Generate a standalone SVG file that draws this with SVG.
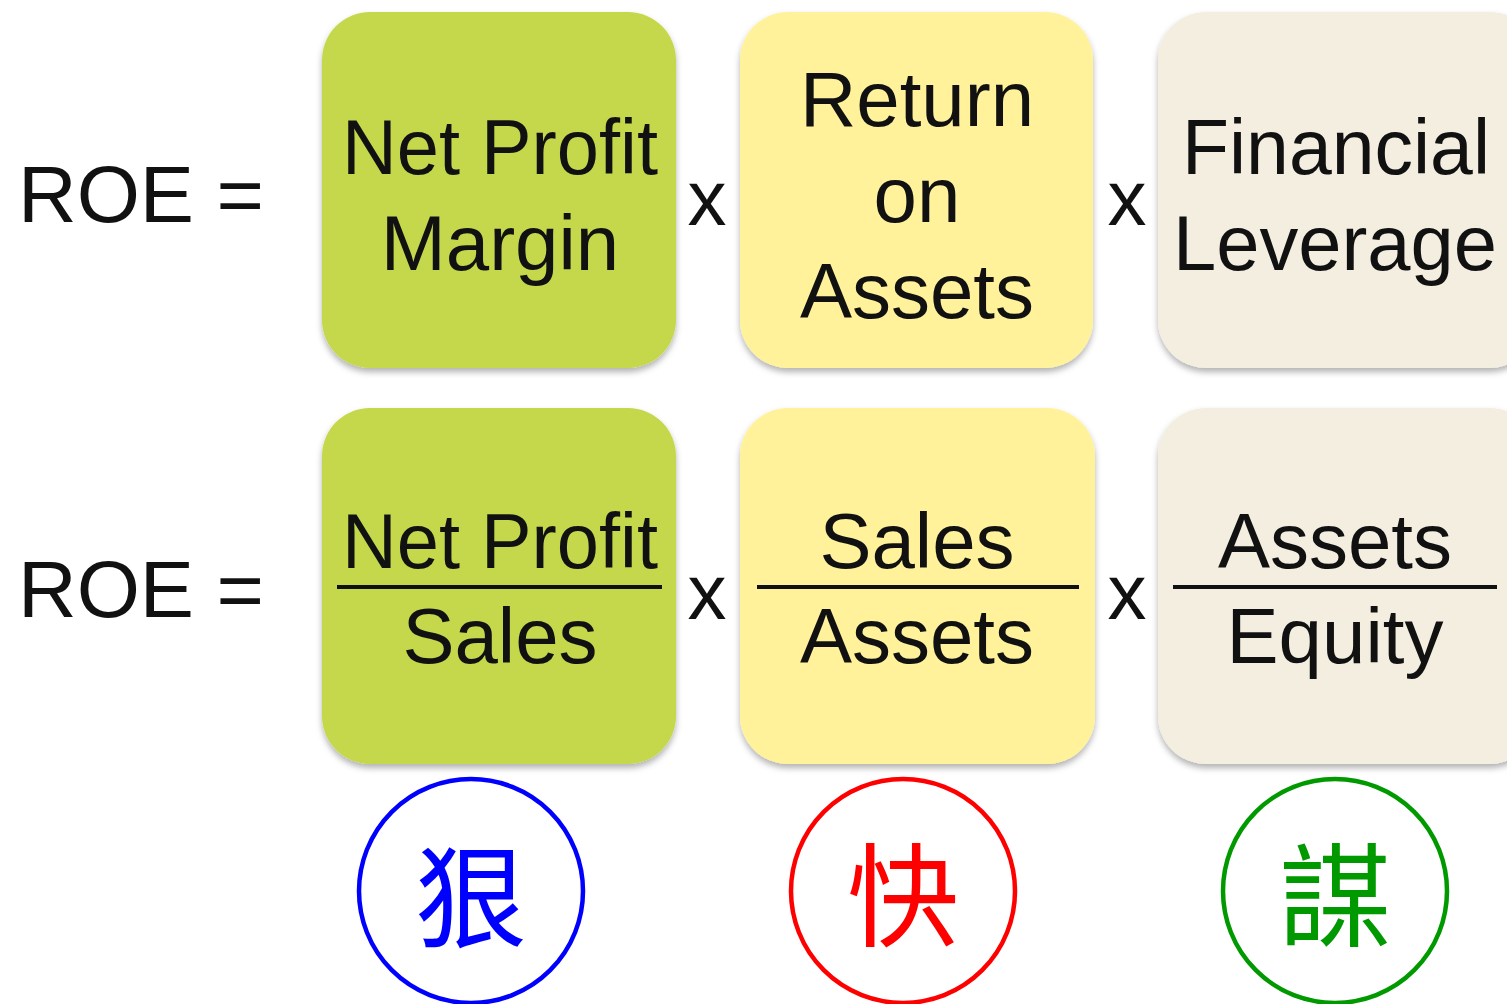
<svg xmlns="http://www.w3.org/2000/svg" width="1507" height="1004" viewBox="0 0 1507 1004">
<style>
.t{font-family:"Liberation Sans",Arial,sans-serif;font-size:78px;fill:#111;text-anchor:middle}
.lbl{font-family:"Liberation Sans",Arial,sans-serif;font-size:80px;fill:#111}
.op{font-family:"Liberation Sans",Arial,sans-serif;font-size:78px;fill:#111;text-anchor:middle}
.g{fill:#c5d84b}.y{fill:#fff29a}.b{fill:#f3eedf}
.bar{stroke:#111;stroke-width:4}
.cj{font-family:"Noto Sans CJK TC","Noto Sans CJK SC",sans-serif;font-size:112px;text-anchor:middle}
.ring{fill:none;stroke-width:4.5}
</style>
<defs>
<filter id="sh" x="-10%" y="-10%" width="120%" height="125%">
<feDropShadow dx="0" dy="4" stdDeviation="3" flood-color="#000" flood-opacity="0.3"/>
</filter>
</defs>
<rect width="1507" height="1004" fill="#fff"/>
<text class="lbl" x="18" y="222" textLength="246" lengthAdjust="spacingAndGlyphs">ROE =</text>
<text class="lbl" x="18" y="617" textLength="246" lengthAdjust="spacingAndGlyphs">ROE =</text>
<g id="npm"><rect class="g" x="322" y="12" width="354" height="356" rx="48" filter="url(#sh)"/>
<text class="t" x="500" y="174" textLength="316" lengthAdjust="spacingAndGlyphs">Net Profit</text>
<text class="t" x="500" y="270">Margin</text></g>
<g id="roa"><rect class="y" x="740" y="12" width="353" height="356" rx="48" filter="url(#sh)"/>
<text class="t" x="917" y="126">Return</text>
<text class="t" x="917" y="222">on</text>
<text class="t" x="917" y="318">Assets</text></g>
<g id="fl"><rect class="b" x="1158" y="12" width="380" height="356" rx="48" filter="url(#sh)"/>
<text class="t" x="1336" y="174" textLength="308" lengthAdjust="spacingAndGlyphs">Financial</text>
<text class="t" x="1335" y="270" textLength="324" lengthAdjust="spacingAndGlyphs">Leverage</text></g>
<g id="nps"><rect class="g" x="322" y="408" width="354" height="356" rx="48" filter="url(#sh)"/>
<text class="t" x="500" y="568" textLength="316" lengthAdjust="spacingAndGlyphs">Net Profit</text>
<line class="bar" x1="337" y1="587" x2="662" y2="587"/>
<text class="t" x="500" y="663">Sales</text></g>
<g id="sa"><rect class="y" x="740" y="408" width="355" height="356" rx="48" filter="url(#sh)"/>
<text class="t" x="917" y="568">Sales</text>
<line class="bar" x1="757" y1="587" x2="1079" y2="587"/>
<text class="t" x="917" y="663">Assets</text></g>
<g id="ae"><rect class="b" x="1158" y="408" width="380" height="356" rx="48" filter="url(#sh)"/>
<text class="t" x="1335" y="568">Assets</text>
<line class="bar" x1="1173" y1="587" x2="1497" y2="587"/>
<text class="t" x="1335" y="663">Equity</text></g>
<g id="connectors">
<text class="op" x="707" y="225">x</text>
<text class="op" x="1127" y="225">x</text>
<text class="op" x="707" y="619">x</text>
<text class="op" x="1127" y="619">x</text>
</g>
<g id="c1"><circle class="ring" stroke="#0000ff" cx="471" cy="891" r="112"/><text class="cj" fill="#0000ff" x="471" y="940">狠</text></g>
<g id="c2"><circle class="ring" stroke="#ff0000" cx="903" cy="891" r="112"/><text class="cj" fill="#ff0000" x="903" y="938">快</text></g>
<g id="c3"><circle class="ring" stroke="#009900" cx="1335" cy="891" r="112"/><text class="cj" fill="#009900" x="1335" y="938">謀</text></g>
</svg>
